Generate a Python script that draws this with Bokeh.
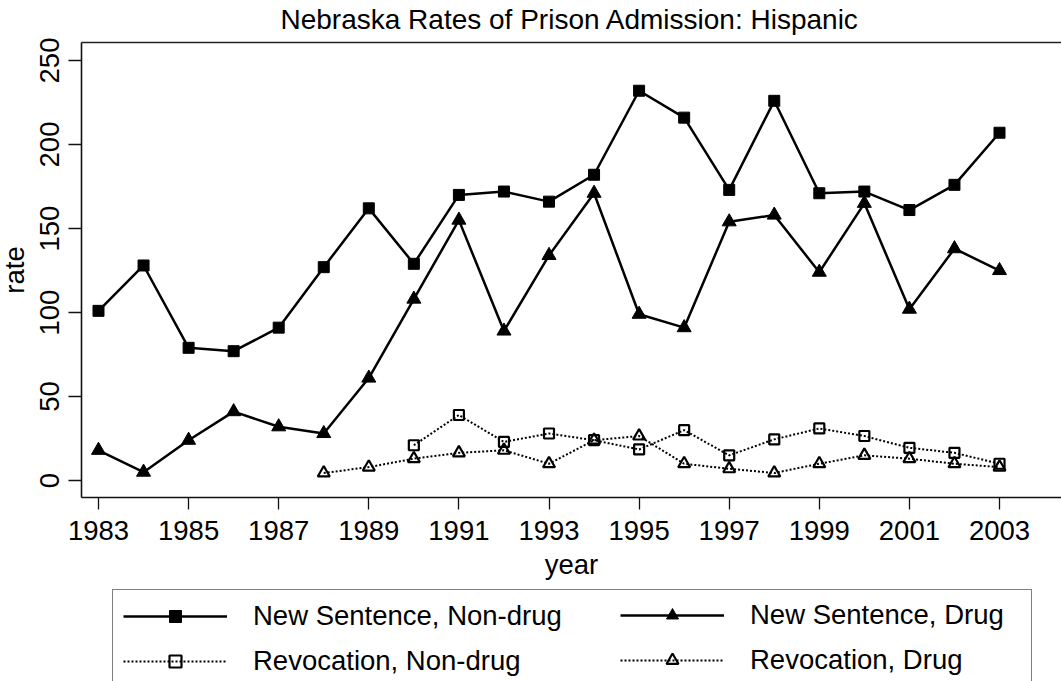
from bokeh.plotting import figure
from bokeh.models import Legend, LegendItem, LinearAxis, FixedTicker, Range1d
from bokeh.embed import file_html
from bokeh.resources import INLINE

# ---- data ----
years = [1983, 1984, 1985, 1986, 1987, 1988, 1989, 1990, 1991, 1992, 1993,
         1994, 1995, 1996, 1997, 1998, 1999, 2000, 2001, 2002, 2003]
new_nondrug = [101, 128, 79, 77, 91, 127, 162, 129, 170, 172, 166,
               182, 232, 216, 173, 226, 171, 172, 161, 176, 207]
new_drug = [18, 5, 24, 41, 32, 28, 61, 108, 155, 89, 134,
            171, 99, 91, 154, 158, 124, 165, 102, 138, 125]
rev_nondrug_years = [1990, 1991, 1992, 1993, 1994, 1995, 1996, 1997, 1998,
                     1999, 2000, 2001, 2002, 2003]
rev_nondrug = [21, 39, 23, 28, 24, 18.5, 30, 15, 24.5, 31, 26.5, 19.5, 16.5, 10]
rev_drug_years = [1988, 1989, 1990, 1991, 1992, 1993, 1994, 1995, 1996, 1997,
                  1998, 1999, 2000, 2001, 2002, 2003]
rev_drug = [4.5, 8, 13, 16.5, 18, 10, 24, 26.5, 10, 7, 4.5, 10, 15, 13, 10, 8]

x_ticks = [1983, 1985, 1987, 1989, 1991, 1993, 1995, 1997, 1999, 2001, 2003]
y_ticks = [0, 50, 100, 150, 200, 250]

FONT = "Liberation Sans"
FS = "27.5px"

# plot-region limits (data units) and outer canvas limits
X_LO, X_HI = 1982.623, 2004.376
Y_LO, Y_HI = -10.12, 260.7

p = figure(width=1061, height=681, output_backend="svg", toolbar_location=None,
           x_range=Range1d(1980.8247, X_HI), y_range=Range1d(-119.6, 264.88),
           min_border_left=0, min_border_right=0, min_border_top=35,
           min_border_bottom=0,
           title="Nebraska Rates of Prison Admission: Hispanic")
p.title.text_font = FONT
p.title.text_font_size = "28px"
p.title.text_font_style = "normal"
p.title.text_color = "black"
p.title.align = "left"
p.title.offset = 280
p.title.standoff = 2
p.outline_line_color = None
p.xgrid.visible = False
p.ygrid.visible = False
p.background_fill_color = "white"
p.border_fill_color = "white"

# axes
xa = p.xaxis[0]
xa.ticker = FixedTicker(ticks=x_ticks)
xa.axis_label = "year"
xa.fixed_location = Y_LO
xa.bounds = (X_LO, X_HI)
ya = p.yaxis[0]
ya.ticker = FixedTicker(ticks=y_ticks)
ya.axis_label = "rate"
ya.major_label_orientation = "vertical"
ya.fixed_location = X_LO
ya.bounds = (Y_LO, Y_HI)
for ax in (xa, ya):
    ax.axis_line_color = "#111111"
    ax.axis_line_width = 1.6
    ax.major_tick_line_color = "#111111"
    ax.major_tick_line_width = 1.3
    ax.minor_tick_line_color = None
    ax.major_tick_in = 0
    ax.major_label_text_font = FONT
    ax.major_label_text_font_size = FS
    ax.major_label_text_color = "black"
    ax.axis_label_text_font = FONT
    ax.axis_label_text_font_size = FS
    ax.axis_label_text_font_style = "normal"
    ax.axis_label_text_color = "black"
xa.major_tick_out = 12
xa.major_label_standoff = 11
xa.axis_label_standoff = 6
ya.major_tick_out = 13
ya.major_label_standoff = 10
ya.axis_label_standoff = 7

# top border line of the plot region: an empty axis at the upper limit
top = LinearAxis(ticker=FixedTicker(ticks=[]), axis_line_color="#222222",
                 axis_line_width=1.6, major_tick_out=0, major_tick_in=0,
                 minor_tick_out=0, minor_tick_in=0, major_label_standoff=0,
                 major_label_text_font_size="0px", bounds=(X_LO, X_HI),
                 fixed_location=Y_HI)
p.add_layout(top, "above")

# series
r1 = p.line(years, new_nondrug, line_color="black", line_width=2.5)
s1 = p.scatter(years, new_nondrug, marker="square", size=11,
               fill_color="black", line_color="black")
r2 = p.line(years, new_drug, line_color="black", line_width=2.5)
s2 = p.scatter(years, new_drug, marker="triangle", size=14,
               fill_color="black", line_color="black")
r3 = p.line(rev_nondrug_years, rev_nondrug, line_color="black", line_width=2,
            line_dash="2 2")
s3 = p.scatter(rev_nondrug_years, rev_nondrug, marker="square", size=10,
               fill_alpha=0, line_color="black", line_width=2.2)
r4 = p.line(rev_drug_years, rev_drug, line_color="black", line_width=2,
            line_dash="2 2")
s4 = p.scatter(rev_drug_years, rev_drug, marker="triangle", size=12,
               fill_alpha=0, line_color="black", line_width=2.2)

common = dict(orientation="vertical", padding=10, spacing=13, glyph_width=104,
              glyph_height=30, label_height=30, label_standoff=26,
              label_text_font=FONT, label_text_font_size=FS,
              label_text_color="black", margin=0)
legA = Legend(items=[LegendItem(label="New Sentence, Non-drug", renderers=[r1, s1]),
                     LegendItem(label="Revocation, Non-drug", renderers=[r3, s3])],
              location=(112, -7), label_width=768,
              border_line_color="black", border_line_width=1.2,
              background_fill_color="white", background_fill_alpha=1, **common)
legB = Legend(items=[LegendItem(label="New Sentence, Drug", renderers=[r2, s2]),
                     LegendItem(label="Revocation, Drug", renderers=[r4, s4])],
              location=(620, 5), border_line_color=None,
              background_fill_alpha=0, **common)
p.add_layout(legA)
p.add_layout(legB)

open("out.html", "w").write(file_html(p, INLINE))
